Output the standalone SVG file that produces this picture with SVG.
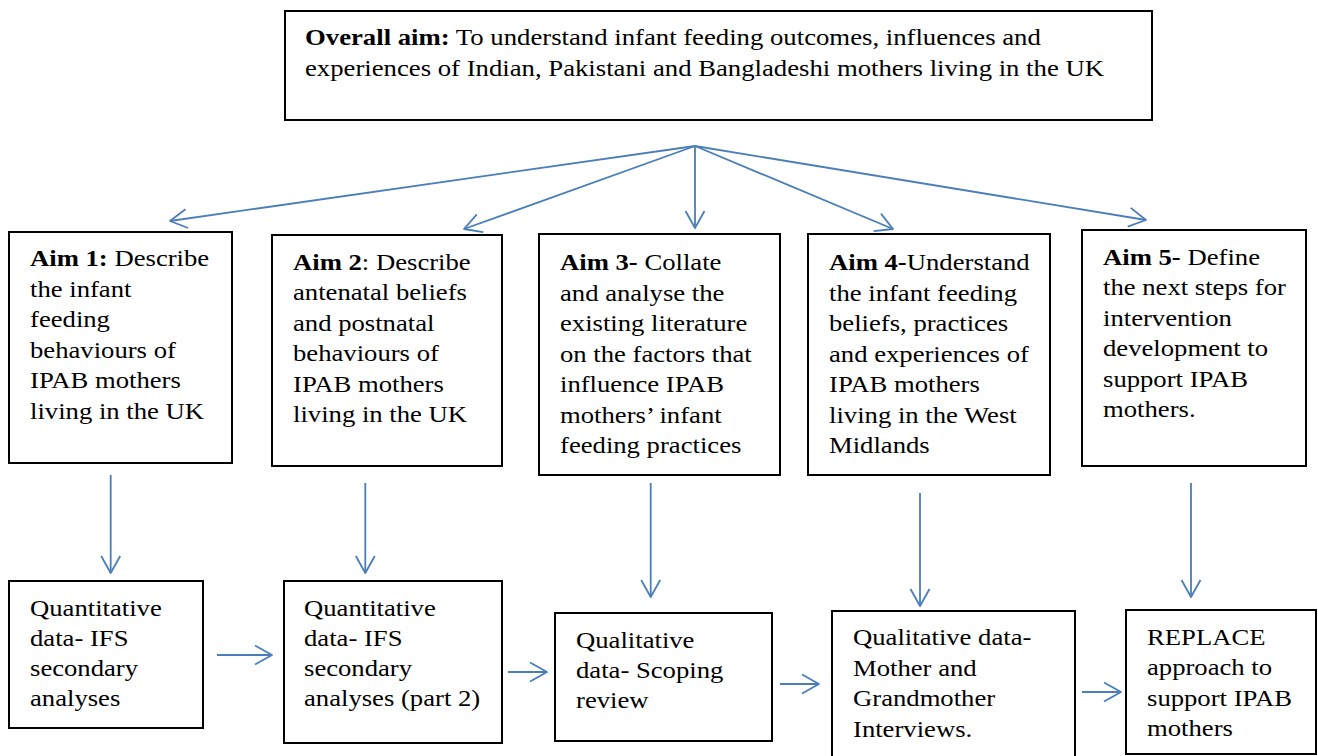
<svg xmlns="http://www.w3.org/2000/svg" width="1318" height="756" viewBox="0 0 1318 756">
<style>
.box{fill:#fff;stroke:#000;stroke-width:2}
.t{font-family:"Liberation Serif","Times New Roman",serif;font-size:23px;fill:#000}
.b{font-weight:bold}
.c{stroke:#4a7ebb;stroke-width:1.8;fill:none;marker-end:url(#ah)}
</style>
<defs>
<marker id="ah" markerUnits="userSpaceOnUse" markerWidth="24" markerHeight="24" viewBox="-20 -12 24 24" refX="0" refY="0" orient="auto">
<path d="M-17,-9.5 L0,0 L-17,9.5" fill="none" stroke="#4a7ebb" stroke-width="1.8" stroke-linejoin="round"/>
</marker>
</defs>
<rect width="1318" height="756" fill="#fff"/>
<g id="connectors">
<line class="c" x1="695" y1="146" x2="170" y2="221"/>
<line class="c" x1="695" y1="146" x2="464" y2="229"/>
<line class="c" x1="695" y1="146" x2="695" y2="228"/>
<line class="c" x1="695" y1="146" x2="893" y2="229"/>
<line class="c" x1="695" y1="146" x2="1146" y2="220"/>
<line class="c" x1="110.7" y1="475" x2="110.7" y2="573"/>
<line class="c" x1="365.3" y1="483" x2="365.3" y2="573"/>
<line class="c" x1="650.7" y1="483" x2="650.7" y2="597"/>
<line class="c" x1="920" y1="493" x2="920" y2="606"/>
<line class="c" x1="1191" y1="483" x2="1191" y2="597"/>
<line class="c" x1="217" y1="655" x2="272" y2="655"/>
<line class="c" x1="508" y1="672" x2="547" y2="672"/>
<line class="c" x1="780" y1="684" x2="819" y2="684"/>
<line class="c" x1="1082" y1="692" x2="1121" y2="692"/>
</g>
<g id="overall">
<rect class="box" x="285" y="11" width="867" height="109"/>
<text class="t" transform="translate(305,0) scale(1.162,1)"><tspan x="0" y="45"><tspan class="b">Overall aim:</tspan> To understand infant feeding outcomes, influences and</tspan><tspan x="0" y="76">experiences of Indian, Pakistani and Bangladeshi mothers living in the UK</tspan></text>
</g>
<g id="aim1">
<rect class="box" x="9" y="232" width="223" height="231"/>
<text class="t" transform="translate(30,0) scale(1.16,1)"><tspan x="0" y="266.5"><tspan class="b">Aim 1:</tspan> Describe</tspan><tspan x="0" y="297">the infant</tspan><tspan x="0" y="327.5">feeding</tspan><tspan x="0" y="358">behaviours of</tspan><tspan x="0" y="388.5">IPAB mothers</tspan><tspan x="0" y="419">living in the UK</tspan></text>
</g>
<g id="aim2">
<rect class="box" x="272" y="235" width="230" height="231"/>
<text class="t" transform="translate(293,0) scale(1.16,1)"><tspan x="0" y="270"><tspan class="b">Aim 2</tspan>: Describe</tspan><tspan x="0" y="300.5">antenatal beliefs</tspan><tspan x="0" y="331">and postnatal</tspan><tspan x="0" y="361.5">behaviours of</tspan><tspan x="0" y="392">IPAB mothers</tspan><tspan x="0" y="422.5">living in the UK</tspan></text>
</g>
<g id="aim3">
<rect class="box" x="539" y="234" width="241" height="241"/>
<text class="t" transform="translate(560,0) scale(1.16,1)"><tspan x="0" y="270.5"><tspan class="b">Aim 3-</tspan> Collate</tspan><tspan x="0" y="301">and analyse the</tspan><tspan x="0" y="331.5">existing literature</tspan><tspan x="0" y="362">on the factors that</tspan><tspan x="0" y="392.5">influence IPAB</tspan><tspan x="0" y="423">mothers’ infant</tspan><tspan x="0" y="453.5">feeding practices</tspan></text>
</g>
<g id="aim4">
<rect class="box" x="808" y="234" width="242" height="241"/>
<text class="t" transform="translate(829,0) scale(1.16,1)"><tspan x="0" y="270.5"><tspan class="b">Aim 4-</tspan>Understand</tspan><tspan x="0" y="301">the infant feeding</tspan><tspan x="0" y="331.5">beliefs, practices</tspan><tspan x="0" y="362">and experiences of</tspan><tspan x="0" y="392.5">IPAB mothers</tspan><tspan x="0" y="423">living in the West</tspan><tspan x="0" y="453.5">Midlands</tspan></text>
</g>
<g id="aim5">
<rect class="box" x="1082" y="230" width="224" height="236"/>
<text class="t" transform="translate(1103,0) scale(1.16,1)"><tspan x="0" y="265"><tspan class="b">Aim 5-</tspan> Define</tspan><tspan x="0" y="295.5">the next steps for</tspan><tspan x="0" y="326">intervention</tspan><tspan x="0" y="356.5">development to</tspan><tspan x="0" y="387">support IPAB</tspan><tspan x="0" y="417.5">mothers.</tspan></text>
</g>
<g id="out1">
<rect class="box" x="9" y="581" width="194" height="147"/>
<text class="t" transform="translate(30,0) scale(1.16,1)"><tspan x="0" y="616">Quantitative</tspan><tspan x="0" y="646">data- IFS</tspan><tspan x="0" y="676">secondary</tspan><tspan x="0" y="706">analyses</tspan></text>
</g>
<g id="out2">
<rect class="box" x="284" y="581" width="218" height="162"/>
<text class="t" transform="translate(304,0) scale(1.16,1)"><tspan x="0" y="616">Quantitative</tspan><tspan x="0" y="646">data- IFS</tspan><tspan x="0" y="676">secondary</tspan><tspan x="0" y="706">analyses (part 2)</tspan></text>
</g>
<g id="out3">
<rect class="box" x="555" y="613" width="217" height="128"/>
<text class="t" transform="translate(576,0) scale(1.16,1)"><tspan x="0" y="648">Qualitative</tspan><tspan x="0" y="678">data- Scoping</tspan><tspan x="0" y="708">review</tspan></text>
</g>
<g id="out4">
<rect class="box" x="832" y="611" width="243" height="150"/>
<text class="t" transform="translate(853,0) scale(1.16,1)"><tspan x="0" y="645">Qualitative data-</tspan><tspan x="0" y="676">Mother and</tspan><tspan x="0" y="706.5">Grandmother</tspan><tspan x="0" y="737">Interviews.</tspan></text>
</g>
<g id="out5">
<rect class="box" x="1126" y="610" width="190" height="144"/>
<text class="t" transform="translate(1147,0) scale(1.16,1)"><tspan x="0" y="645">REPLACE</tspan><tspan x="0" y="675.5">approach to</tspan><tspan x="0" y="706">support IPAB</tspan><tspan x="0" y="736.5">mothers</tspan></text>
</g>
</svg>
